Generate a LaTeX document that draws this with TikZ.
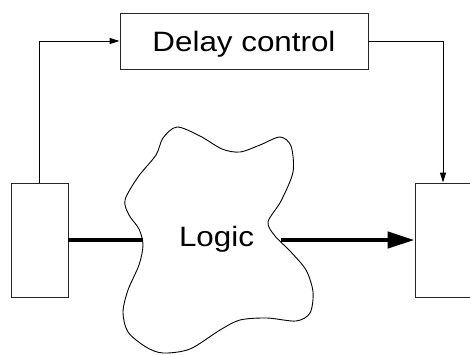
\documentclass[tikz,border=0pt]{standalone}
\usepackage{fontspec}
\newfontfamily\diagfont[FakeStretch=1.12]{Liberation Sans}
\usetikzlibrary{arrows.meta}
\begin{document}
\begin{tikzpicture}[x=1pt,y=-1pt,
  box/.style={draw=black!85, line width=0.9pt, inner sep=0pt},
  thinline/.style={draw=black, line width=0.9pt},
  thickline/.style={draw=black, line width=4.5pt},
  lbl/.style={font=\diagfont\fontsize{28}{33}\selectfont}]
\useasboundingbox (0,0) rectangle (470,354);
% boxes
\node[box, minimum width=248pt, minimum height=56pt, lbl, text height=20pt, text depth=0pt] (dc) at (244,41) {Delay control};
\node[box, minimum width=57pt, minimum height=114pt] (lb) at (39.5,240) {};
\node[box, minimum width=56pt, minimum height=114pt] (rb) at (443,240) {};
% cloud
\draw[thinline, line join=round] plot[smooth cycle, tension=0.5] coordinates {
 (177,127) (200,136) (222,149) (240,152) (260,145) (280,137) (291,146) (293,172)
 (281,201) (268,222) (275,236) (290,251) (306,270) (313,292) (310,313)
 (296,321) (267,318) (240,320) (220,330) (190,349) (163,353) (146,347) (128,332)
 (123,312) (128,290) (139,265) (143,245) (139,229) (129,215) (125,200)
 (138,177) (156,155) (163,138)};
\coordinate (cL) at (143,240);
\coordinate (cR) at (281,240);
\node[lbl, anchor=base] (logic) at (216.5,246) {Logic};
% connectors
\draw[thinline, -{Triangle[length=10pt,width=6pt]}] (lb.north) |- (dc.west);
\draw[thinline, -{Triangle[length=10pt,width=6pt]}] (dc.east) -| (rb.north);
\draw[thickline] (lb.east) -- (cL);
\draw[thickline, -{Triangle[length=27pt,width=16pt]}] (cR) -- (rb.west);
\end{tikzpicture}
\end{document}
